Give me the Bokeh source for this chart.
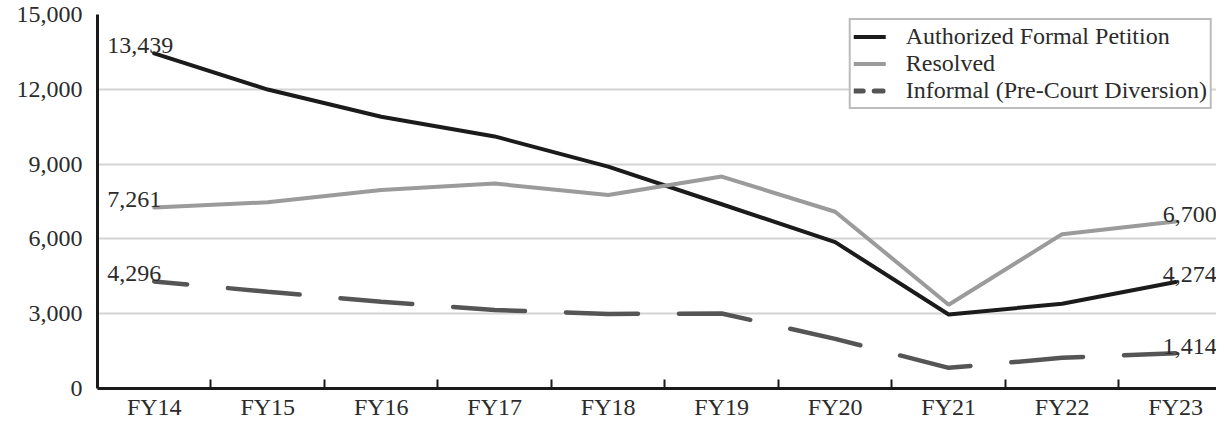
from bokeh.plotting import figure
from bokeh.models import (FixedTicker, Legend, LegendItem, ColumnDataSource,
                          NumeralTickFormatter, Range1d)
from bokeh.core.properties import value
from bokeh.embed import file_html
from bokeh.resources import INLINE

years = ["FY14", "FY15", "FY16", "FY17", "FY18", "FY19", "FY20", "FY21", "FY22", "FY23"]
authorized = [13439, 11990, 10900, 10110, 8900, 7390, 5870, 2970, 3400, 4274]
resolved = [7261, 7470, 7960, 8220, 7760, 8500, 7090, 3360, 6190, 6700]
informal = [4296, 3880, 3480, 3150, 2990, 3010, 1990, 830, 1230, 1414]
y_ticks = [0, 3000, 6000, 9000, 12000, 15000]

FONT = value("Liberation Serif")
TXT = "#2b2b2b"

xs = list(range(len(years)))

p = figure(width=1216, height=422, output_backend="svg", toolbar_location=None,
           x_range=Range1d(-0.5, 9.36), y_range=Range1d(0, 15000),
           min_border_left=97, min_border_right=0, min_border_top=14,
           min_border_bottom=30, outline_line_color=None)

p.xgrid.grid_line_color = None
p.ygrid.grid_line_color = "#d4d4d4"
p.ygrid.grid_line_width = 2

# x axis
p.xaxis.ticker = FixedTicker(ticks=xs, minor_ticks=[i + 0.5 for i in range(len(years) - 1)])
p.xaxis.major_label_overrides = {i: y for i, y in enumerate(years)}
p.xaxis.major_tick_line_color = None
p.xaxis.major_tick_out = 0
p.xaxis.major_tick_in = 0
p.xaxis.minor_tick_in = 9
p.xaxis.minor_tick_out = 0
p.xaxis.minor_tick_line_width = 2
p.xaxis.minor_tick_line_color = "#1a1a1a"
p.xaxis.axis_line_width = 3
p.xaxis.axis_line_color = "#1a1a1a"
p.xaxis.major_label_standoff = 5
p.xaxis.major_label_text_font_size = "24px"

# y axis
p.yaxis.ticker = FixedTicker(ticks=y_ticks)
p.yaxis.formatter = NumeralTickFormatter(format="0,0")
p.yaxis.major_tick_line_color = None
p.yaxis.major_tick_out = 0
p.yaxis.major_tick_in = 0
p.yaxis.minor_tick_line_color = None
p.yaxis.axis_line_width = 3
p.yaxis.axis_line_color = "#1a1a1a"
p.yaxis.major_label_standoff = 15
p.yaxis.major_label_text_font_size = "24px"

for ax in (p.xaxis[0], p.yaxis[0]):
    ax.major_label_text_font = "Liberation Serif"
    ax.major_label_text_color = TXT

r_auth = p.line(xs, authorized, line_color="#1b1b1b", line_width=4, line_cap="round")
r_res = p.line(xs, resolved, line_color="#9b9b9b", line_width=4, line_cap="round")
r_inf = p.line(xs, informal, line_color="#555555", line_width=4.5, line_cap="round",
               line_dash="72 41", line_dash_offset=39)
r_inf_leg = p.line([0, 1], [float("nan"), float("nan")], line_color="#555555",
                   line_width=5, line_cap="round", line_dash="9 11")

# end labels
left_vals = [authorized[0], resolved[0], informal[0]]
left_src = ColumnDataSource(dict(x=[0] * 3, y=left_vals, t=[f"{v:,}" for v in left_vals]))
p.text(x="x", y="y", text="t", source=left_src, text_font=FONT, text_font_size="24px",
       text_color=TXT, text_align="left", text_baseline="alphabetic",
       x_offset=-47, y_offset=-8)
right_vals = [authorized[-1], resolved[-1], informal[-1]]
right_src = ColumnDataSource(dict(x=[9] * 3, y=right_vals, t=[f"{v:,}" for v in right_vals]))
p.text(x="x", y="y", text="t", source=right_src, text_font=FONT, text_font_size="24px",
       text_color=TXT, text_align="right", text_baseline="alphabetic",
       x_offset=41, y_offset=-7)

legend = Legend(items=[
    LegendItem(label="Authorized Formal Petition", renderers=[r_auth]),
    LegendItem(label="Resolved", renderers=[r_res]),
    LegendItem(label="Informal (Pre-Court Diversion)", renderers=[r_inf_leg]),
], location="top_right")
legend.margin = 4
legend.padding = 3
legend.spacing = 0
legend.glyph_width = 32
legend.glyph_height = 27
legend.label_height = 27
legend.label_standoff = 20
legend.label_text_font = "Liberation Serif"
legend.label_text_font_size = "24px"
legend.label_text_color = TXT
legend.border_line_color = "#7a7a7a"
legend.border_line_width = 2
legend.background_fill_color = "white"
legend.background_fill_alpha = 1
p.add_layout(legend)

open("out.html", "w").write(file_html(p, INLINE))
